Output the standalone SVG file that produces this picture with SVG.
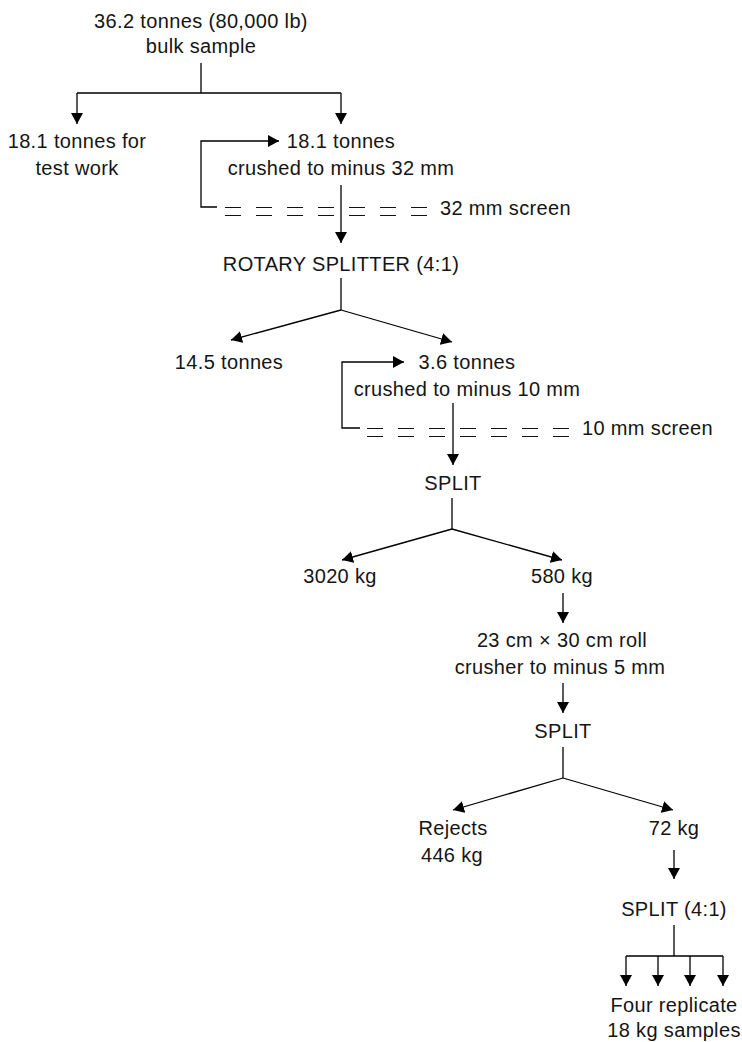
<svg xmlns="http://www.w3.org/2000/svg" width="742" height="1042" viewBox="0 0 742 1042">
<style>
text{font-family:"Liberation Sans",Arial,sans-serif;font-size:20px;letter-spacing:0.35px;fill:#151515;}
.c{text-anchor:middle;}
.ln{stroke:#000;stroke-width:1.3;fill:none;}
.ar{stroke:#000;stroke-width:1.3;fill:none;marker-end:url(#ah);}
.scr{stroke:#111;stroke-width:1.2;fill:none;stroke-dasharray:16 15;}
</style>
<defs>
<marker id="ah" viewBox="0 0 11 12" refX="11" refY="6" markerWidth="11" markerHeight="12" markerUnits="userSpaceOnUse" orient="auto">
<path d="M0,0 L11,6 L0,12 z" fill="#000"/>
</marker>
</defs>
<rect width="742" height="1042" fill="#fff"/>
<g id="connectors">
<path class="ln" d="M201,63 V93 M77,93 H341"/>
<path class="ar" d="M77,93 V124"/>
<path class="ar" d="M341,93 V124"/>
<path class="ar" d="M217,207 H201 V141 H279"/>
<path class="ar" d="M341,185 V243"/>
<path class="ln" d="M341,278 V310"/>
<path class="ar" d="M341,310 L231,340"/>
<path class="ar" d="M341,310 L452,342"/>
<path class="ar" d="M360,428 H342 V362 H404"/>
<path class="ar" d="M453,403 V465"/>
<path class="ln" d="M452,498 V529"/>
<path class="ar" d="M452,529 L342,560"/>
<path class="ar" d="M452,529 L562,560"/>
<path class="ar" d="M563,593 V623"/>
<path class="ar" d="M563,683 V713"/>
<path class="ln" d="M563,747 V778"/>
<path class="ar" d="M563,778 L453,810"/>
<path class="ar" d="M563,778 L673,810"/>
<path class="ar" d="M674,850 V879"/>
<path class="ln" d="M674,925 V956 M626,956 H723"/>
<path class="ar" d="M626,956 V986"/>
<path class="ar" d="M658,956 V986"/>
<path class="ar" d="M690,956 V986"/>
<path class="ar" d="M723,956 V986"/>
</g>
<g id="screen32">
<path class="scr" d="M225,207.5 H427 M225,215.5 H427"/>
<text x="440" y="215">32 mm screen</text>
</g>
<g id="screen10">
<path class="scr" d="M367,428.5 H569 M367,436.5 H569"/>
<text x="582" y="435">10 mm screen</text>
</g>
<g id="bulk"><text class="c" x="201" y="28">36.2 tonnes (80,000 lb)</text><text class="c" x="201" y="53">bulk sample</text></g>
<g id="testwork"><text class="c" x="77" y="148">18.1 tonnes for</text><text class="c" x="77" y="175">test work</text></g>
<g id="crushed32"><text class="c" x="341" y="148">18.1 tonnes</text><text class="c" x="341" y="175">crushed to minus 32 mm</text></g>
<g id="rotary"><text class="c" x="341" y="271">ROTARY SPLITTER (4:1)</text></g>
<g id="t145"><text class="c" x="229" y="369">14.5 tonnes</text></g>
<g id="crushed10"><text class="c" x="467" y="369">3.6 tonnes</text><text class="c" x="467" y="396">crushed to minus 10 mm</text></g>
<g id="split1"><text class="c" x="453" y="490">SPLIT</text></g>
<g id="kg3020"><text class="c" x="340" y="583">3020 kg</text></g>
<g id="kg580"><text class="c" x="562" y="583">580 kg</text></g>
<g id="roll"><text class="c" x="562" y="647">23 cm × 30 cm roll</text><text class="c" x="560" y="674">crusher to minus 5 mm</text></g>
<g id="split2"><text class="c" x="563" y="738">SPLIT</text></g>
<g id="rejects"><text class="c" x="453" y="835">Rejects</text><text class="c" x="452" y="862">446 kg</text></g>
<g id="kg72"><text class="c" x="674" y="835">72 kg</text></g>
<g id="split3"><text class="c" x="674" y="916">SPLIT (4:1)</text></g>
<g id="replicates"><text class="c" x="674" y="1012">Four replicate</text><text class="c" x="674" y="1037">18 kg samples</text></g>
</svg>
